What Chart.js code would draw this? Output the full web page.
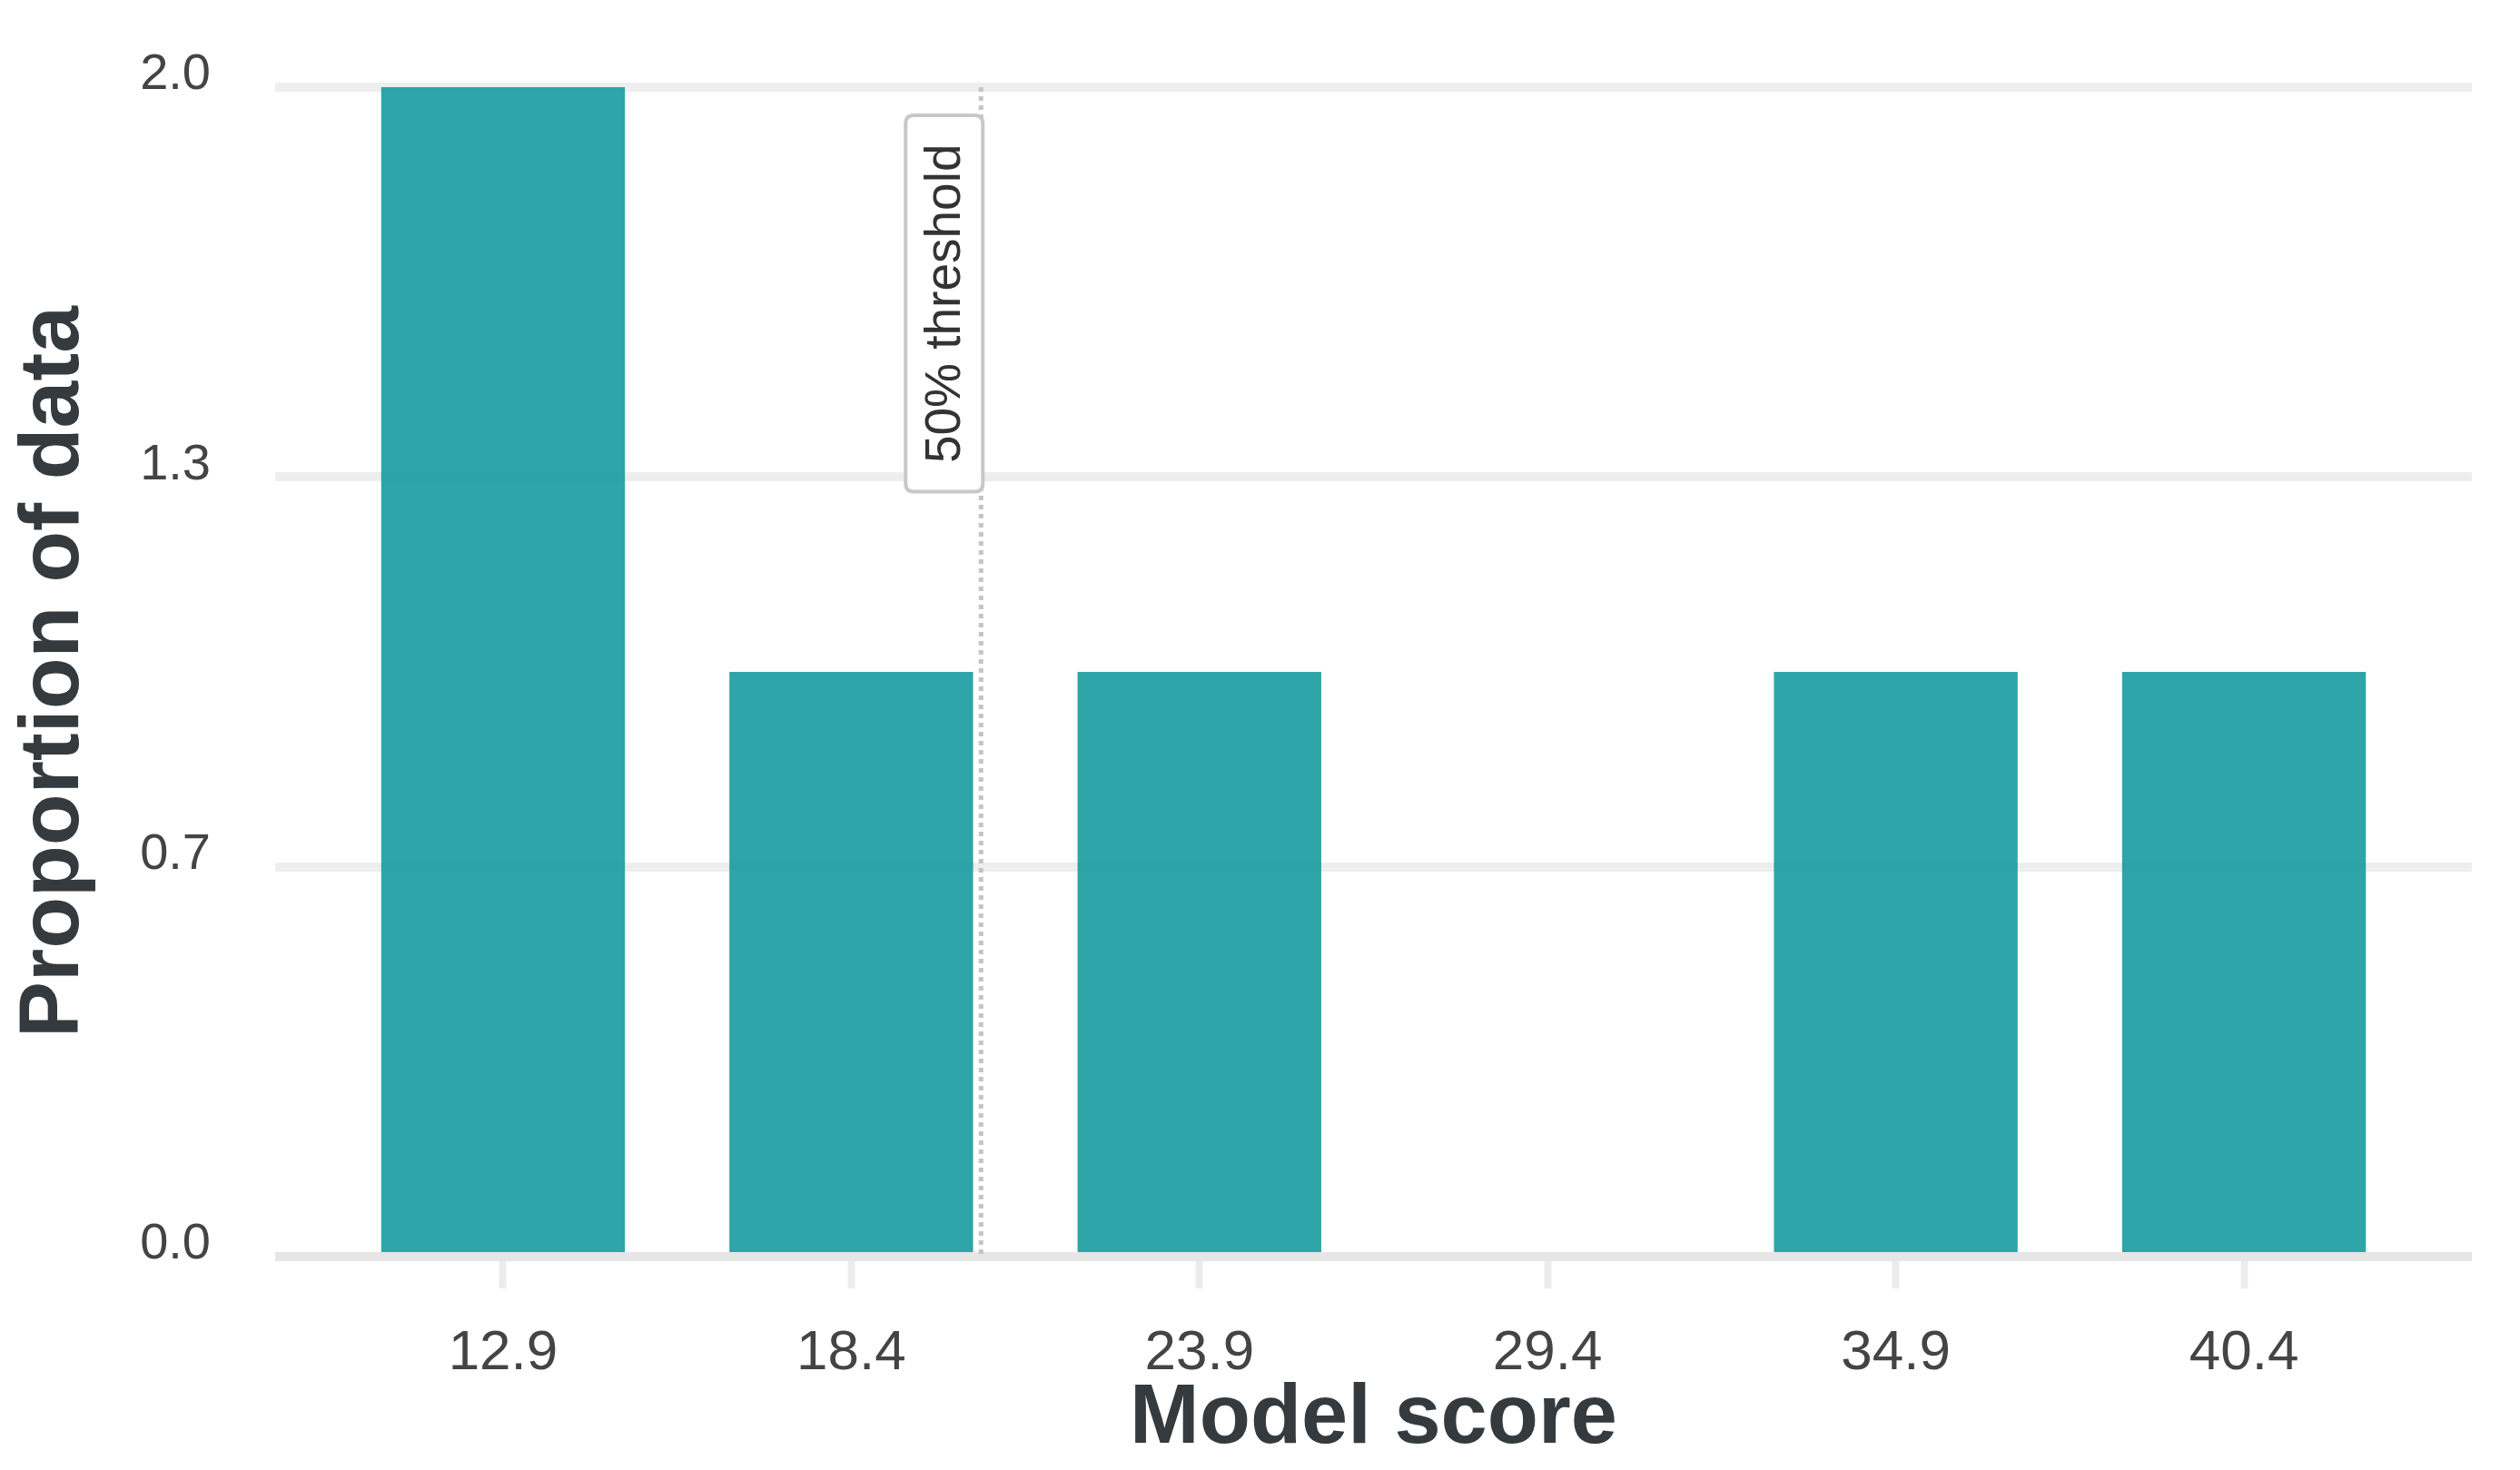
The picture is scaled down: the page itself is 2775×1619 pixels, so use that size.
<!DOCTYPE html>
<html>
<head>
<meta charset="utf-8">
<script src="https://cdn.jsdelivr.net/npm/chart.js@4/dist/chart.umd.min.js"></script>
<style>
  html, body { margin: 0; padding: 0; background: #ffffff; }
  #wrap { width: 2775px; height: 1619px; }
</style>
</head>
<body>
<div id="wrap"><canvas id="c" width="2775" height="1619"></canvas></div>
<script>
// ---- data ----
const scoreBins = [12.9, 18.4, 23.9, 29.4, 34.9, 40.4];
const proportions = [2.0, 1.0, 1.0, 0.0, 1.0, 1.0];
const xTickLabels = ['12.9', '18.4', '23.9', '29.4', '34.9', '40.4'];
const yTickValues = [0, 2 / 3, 4 / 3, 2];
const yTickLabels = ['0.0', '0.7', '1.3', '2.0'];
const thresholdValue = 20.45;
const thresholdLabel = '50% threshold';
const xTitle = 'Model score';
const yTitle = 'Proportion of data';

const FONT = "'Liberation Sans', Arial, Helvetica, sans-serif";

const thresholdPlugin = {
  id: 'threshold',
  afterDatasetsDraw(chart) {
    const { ctx, chartArea, scales } = chart;
    const x = scales.x.getPixelForValue(thresholdValue);
    ctx.save();
    // dotted line
    ctx.strokeStyle = '#c4c4c4';
    ctx.lineWidth = 5;
    ctx.setLineDash([5, 5]);
    ctx.beginPath();
    ctx.moveTo(x, chartArea.top);
    ctx.lineTo(x, chartArea.bottom);
    ctx.stroke();
    ctx.setLineDash([]);
    // label box
    const fontSize = 55;
    ctx.font = fontSize + 'px ' + FONT;
    const tw = ctx.measureText(thresholdLabel).width;
    const boxW = 85;
    const boxH = tw + 63;
    const right = x + 2;
    const left = right - boxW;
    const top = chartArea.top + 31;
    const r = 9;
    ctx.beginPath();
    ctx.moveTo(left + r, top);
    ctx.lineTo(right - r, top);
    ctx.quadraticCurveTo(right, top, right, top + r);
    ctx.lineTo(right, top + boxH - r);
    ctx.quadraticCurveTo(right, top + boxH, right - r, top + boxH);
    ctx.lineTo(left + r, top + boxH);
    ctx.quadraticCurveTo(left, top + boxH, left, top + boxH - r);
    ctx.lineTo(left, top + r);
    ctx.quadraticCurveTo(left, top, left + r, top);
    ctx.closePath();
    ctx.fillStyle = '#ffffff';
    ctx.fill();
    ctx.strokeStyle = '#c8c8c8';
    ctx.lineWidth = 4;
    ctx.stroke();
    // rotated text
    ctx.translate(left + boxW / 2, top + boxH / 2);
    ctx.rotate(-Math.PI / 2);
    ctx.fillStyle = '#333333';
    ctx.textAlign = 'center';
    ctx.textBaseline = 'middle';
    ctx.fillText(thresholdLabel, 0, 2);
    ctx.restore();
  }
};

new Chart(document.getElementById('c'), {
  type: 'bar',
  data: {
    datasets: [{
      label: 'Proportion',
      data: scoreBins.map((s, i) => ({ x: s, y: proportions[i] })),
      backgroundColor: 'rgba(9,149,154,0.85)',
      borderWidth: 0,
      barPercentage: 0.7,
      categoryPercentage: 1.0
    }]
  },
  options: {
    responsive: false,
    devicePixelRatio: 1,
    animation: false,
    layout: { padding: { left: 0, right: 53, top: 96, bottom: 0 } },
    plugins: { legend: { display: false }, tooltip: { enabled: false } },
    scales: {
      x: {
        type: 'linear',
        offset: false,
        min: 9.3,
        max: 44.0,
        afterBuildTicks: (scale) => { scale.ticks = scoreBins.map(v => ({ value: v })); },
        afterFit: (scale) => {
          scale.height = 235;
          scale.paddingLeft = 0;
          scale.paddingRight = 0;
        },
        ticks: {
          callback: (v, i) => xTickLabels[i],
          font: { family: FONT, size: 62 },
          color: '#444444',
          padding: 35,
          maxRotation: 0,
          autoSkip: false
        },
        grid: {
          offset: false,
          drawOnChartArea: false,
          drawTicks: true,
          tickLength: 35,
          tickWidth: 8,
          tickColor: '#ececec'
        },
        border: { display: false },
        title: {
          display: true,
          text: xTitle,
          color: '#343a3d',
          font: { family: FONT, size: 92, weight: 'bold' },
          padding: { top: 0, bottom: 0 }
        }
      },
      y: {
        type: 'linear',
        min: 0,
        max: 2,
        afterBuildTicks: (scale) => { scale.ticks = yTickValues.map(v => ({ value: v })); },
        afterFit: (scale) => {
          scale.width = 303;
          scale.paddingTop = 0;
          scale.paddingBottom = 0;
        },
        ticks: {
          callback: (v, i) => yTickLabels[i],
          font: { family: FONT, size: 56 },
          color: '#444444',
          padding: 71,
          labelOffset: -13
        },
        grid: {
          drawTicks: false,
          lineWidth: 10,
          color: (ctx) => (ctx.tick && ctx.tick.value === 0 ? '#e6e6e6' : '#eeeeee')
        },
        border: { display: false },
        title: {
          display: true,
          text: yTitle,
          color: '#343a3d',
          font: { family: FONT, size: 93, weight: 'bold' },
          padding: { top: 5, bottom: 0 }
        }
      }
    }
  },
  plugins: [thresholdPlugin]
});
</script>
</body>
</html>
